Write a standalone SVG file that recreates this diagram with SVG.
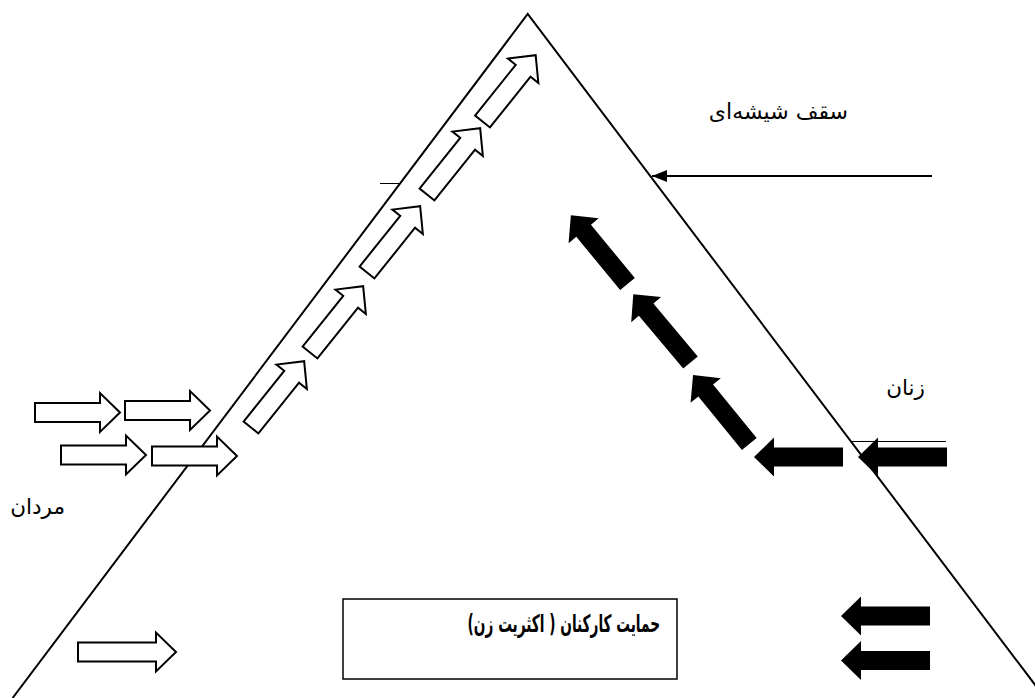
<svg xmlns="http://www.w3.org/2000/svg" xmlns:xlink="http://www.w3.org/1999/xlink" width="1035" height="698" viewBox="0 0 1035 698">
<style>
.edge{fill:none;stroke:#000;stroke-width:2}
.thin{fill:none;stroke:#000;stroke-width:1}
.wa{fill:#fff;stroke:#000;stroke-width:2;stroke-linejoin:miter}
.ba{fill:#000;stroke:none}
.lbl{font-family:"DejaVu Sans","Noto Sans",sans-serif;font-size:21.5px;fill:#000}
.box{fill:#fff;stroke:#000;stroke-width:1.5}
</style>
<defs>
<path id="white" d="M0,-9.5 H65 V-19.5 L85,0 L65,19.5 V9.5 H0 Z"/>
<path id="black" d="M0,-9.5 H69 V-19.5 L89,0 L69,19.5 V9.5 H0 Z"/>
<marker id="ah" viewBox="0 0 15 12" refX="15" refY="6" markerWidth="15" markerHeight="12" markerUnits="userSpaceOnUse" orient="auto">
<path d="M0,0 L15,6 L0,12 Z" fill="#000"/>
</marker>
</defs>
<rect width="1035" height="698" fill="#fff"/>
<g id="pyramid">
<polyline class="edge" points="12.6,698 527.7,14 1045,698"/>
<line class="thin" x1="380" y1="183.5" x2="399" y2="183.5"/>
<line class="thin" x1="852" y1="441.5" x2="946" y2="441.5"/>
</g>
<g id="connectors">
<g id="men-arrows">
<use href="#white" class="wa" transform="translate(35,412.5)"/>
<use href="#white" class="wa" transform="translate(125,410.5)"/>
<use href="#white" class="wa" transform="translate(61,455)"/>
<use href="#white" class="wa" transform="translate(152,456)"/>
<path class="wa" d="M78,642.5 H156 V632.5 L176,652 L156,671.5 V661.5 H78 Z"/>
<use href="#white" class="wa" transform="translate(251,427.5) rotate(-51.3)"/>
<use href="#white" class="wa" transform="translate(310,352.5) rotate(-51.3)"/>
<use href="#white" class="wa" transform="translate(367,272.5) rotate(-51.3)"/>
<use href="#white" class="wa" transform="translate(427,194.5) rotate(-51.3)"/>
<use href="#white" class="wa" transform="translate(482.5,121.5) rotate(-51.3)"/>
</g>
<g id="women-arrows">
<use href="#black" class="ba" transform="translate(843,457) rotate(180)"/>
<use href="#black" class="ba" transform="translate(947,457) rotate(180)"/>
<use href="#black" class="ba" transform="translate(930,616) rotate(180)"/>
<use href="#black" class="ba" transform="translate(930,660.5) rotate(180)"/>
<use href="#black" class="ba" transform="translate(627.5,284) rotate(230.5)"/>
<use href="#black" class="ba" transform="translate(690.5,362.5) rotate(230)"/>
<use href="#black" class="ba" transform="translate(749.3,444) rotate(230.8)"/>
</g>
<g id="ceiling-pointer">
<line class="edge" x1="932" y1="176" x2="652" y2="176" marker-end="url(#ah)"/>
</g>
</g>
<g id="label-ceiling">
<text class="lbl" x="848" y="119" direction="rtl" text-anchor="start" style="font-size:22px">سقف شیشه‌ای</text>
</g>
<g id="label-women">
<text class="lbl" x="925" y="395" direction="rtl" text-anchor="start">زنان</text>
</g>
<g id="label-men">
<text class="lbl" x="65" y="514" direction="rtl" text-anchor="start">مردان</text>
</g>
<g id="support-box">
<rect class="box" x="343" y="599" width="334" height="80"/>
<text class="lbl" transform="translate(660,632) scale(0.57,1)" direction="rtl" text-anchor="start" style="font-size:24px;font-weight:bold">حمایت کارکنان ( اکثریت زن)</text>
</g>
</svg>
